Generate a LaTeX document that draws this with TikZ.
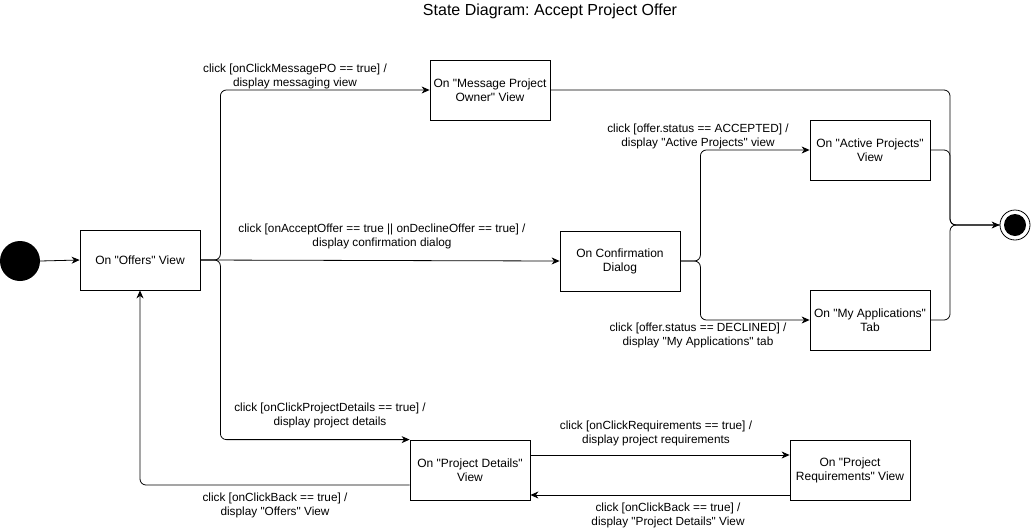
\documentclass[tikz,border=0pt]{standalone}
\usepackage{fontspec}
\setmainfont{Liberation Sans}[Ligatures=TeXOff]
\usetikzlibrary{arrows.meta,calc}
\begin{document}
\frenchspacing
\begin{tikzpicture}[x=1pt,y=-1pt,
  state/.style={draw,line width=0.8pt,minimum width=120pt,minimum height=60pt,inner sep=2pt,align=center,font=\fontsize{12}{14}\selectfont},
  lbl/.style={align=center,font=\fontsize{11.8}{14}\selectfont,inner sep=0pt},
  arr/.style={draw,line width=0.8pt,rounded corners=6pt,-{Stealth[length=8pt,width=7pt,inset=2.5pt]}},
  ln/.style={draw,line width=0.8pt,rounded corners=6pt}]
\useasboundingbox (0,0) rectangle (1031,531);
\node[font=\fontsize{16}{18}\selectfont,inner sep=0pt] (title) at (550,11) {State Diagram: Accept Project Offer};
% states
\node[circle,fill=black,minimum size=40pt,inner sep=0pt] (init) at (20,261) {};
\node[state] (offers) at (140,260) {On "Offers" View};
\node[state] (msg) at (490,90) {On "Message Project\\Owner" View};
\node[state] (active) at (870,150) {On "Active Projects"\\View};
\node[state] (confirm) at (620,261) {On Confirmation\\Dialog};
\node[state] (myapps) at (870,320) {On "My Applications"\\Tab};
\node[state] (details) at (470,470) {On "Project Details"\\View};
\node[state] (reqs) at (850,470) {On "Project\\Requirements" View};
\node[circle,draw,line width=0.8pt,minimum size=30pt,inner sep=0pt] (final) at (1015,225) {};
\node[circle,fill=black,minimum size=22pt,inner sep=0pt] (finalin) at (final.center) {};
\coordinate (j) at (950,225);
% connectors
\draw[arr] (init.east) -- (offers.west);
\draw[arr] (offers.east) -- ++(20,0) |- (msg.west);
\draw[arr] (offers.east) -- (confirm.west);
\draw[arr] (offers.east) -- ++(20,0) |- (details.north west);
\draw[arr] (confirm.east) -- ++(20,0) |- (active.west);
\draw[arr] (confirm.east) -- ++(20,0) |- (myapps.west);
\draw[arr] (msg.east) -| (j) -- (final.west);
\draw[ln] (active.east) -| (j) -- (final.west);
\draw[ln] (myapps.east) -| (j) -- (final.west);
\draw[arr] ([yshift=15pt]details.east) -- ([yshift=15pt]reqs.west);
\draw[arr] ([yshift=-25pt]reqs.west) -- ([yshift=-25pt]details.east);
\draw[arr] ([yshift=-15pt]details.west) -| (offers.south);
% labels
\node[lbl] (l1) at (295,76) {click [onClickMessagePO == true] /\\display messaging view};
\node[lbl] (l2) at (382,236) {click [onAcceptOffer == true || onDeclineOffer == true] /\\display confirmation dialog};
\node[lbl] (l3) at (698,136) {click [offer.status == ACCEPTED] /\\display "Active Projects" view};
\node[lbl] (l4) at (698,335) {click [offer.status == DECLINED] /\\display "My Applications" tab};
\node[lbl] (l5) at (330,415) {click [onClickProjectDetails == true] /\\display project details};
\node[lbl] (l6) at (656,433) {click [onClickRequirements == true] /\\display project requirements};
\node[lbl] (l7) at (275,505) {click [onClickBack == true] /\\display "Offers" View};
\node[lbl] (l8) at (668,515) {click [onClickBack == true] /\\display "Project Details" View};
\end{tikzpicture}
\end{document}
